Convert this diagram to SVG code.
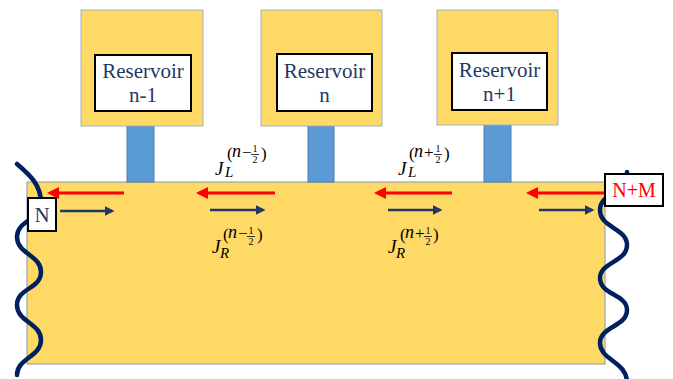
<svg xmlns="http://www.w3.org/2000/svg" width="673" height="379" viewBox="0 0 673 379">
<defs>
<style>
.res{fill:#FFD966;stroke:#9DB0CC;stroke-width:1}
.pipe{fill:#5B9BD5;stroke:#4A7EB0;stroke-width:1}
.inner{fill:#ffffff;stroke:#000000;stroke-width:2}
.rt{font-family:'Liberation Serif','DejaVu Serif','Times New Roman',serif;font-size:21px;fill:#1F3864;text-anchor:middle}
.wave{fill:none;stroke:#002060;stroke-width:4.5;stroke-linecap:round}
.red{stroke:#FF0000;stroke-width:3;fill:none;marker-end:url(#hr)}
.navy{stroke:#1F3864;stroke-width:2.5;fill:none;marker-end:url(#hn)}
.mi{font-family:'Liberation Serif','DejaVu Serif','Times New Roman',serif;font-style:italic;fill:#000}
.mo{font-family:'Liberation Serif','DejaVu Serif','Times New Roman',serif;fill:#000}
.nt{font-family:'Liberation Serif','DejaVu Serif','Times New Roman',serif;text-anchor:middle}
.bar{stroke:#000;stroke-width:0.8}
</style>
<marker id="hr" markerWidth="4" markerHeight="4" refX="3" refY="2" orient="auto" markerUnits="strokeWidth"><path d="M0,0 L4,2 L0,4 Z" fill="#FF0000"/></marker>
<marker id="hn" markerWidth="4" markerHeight="4" refX="3" refY="2" orient="auto" markerUnits="strokeWidth"><path d="M0,0 L4,2 L0,4 Z" fill="#1F3864"/></marker>
</defs>
<rect width="673" height="379" fill="#ffffff"/>
<g id="channel"><rect x="27" y="182" width="578" height="182" fill="#FFD966" stroke="#8497B0" stroke-width="1"/></g>
<g id="reservoir-n-1">
<rect class="pipe" x="127" y="126" width="27" height="56"/>
<rect class="res" x="81" y="10" width="122" height="116"/>
<rect class="inner" x="95" y="55" width="96" height="56"/>
<text class="rt" x="143" y="78">Reservoir</text>
<text class="rt" x="143" y="102">n-1</text>
</g>
<g id="reservoir-n">
<rect class="pipe" x="308" y="126" width="26" height="56"/>
<rect class="res" x="261" y="10" width="121" height="116"/>
<rect class="inner" x="277" y="54" width="95" height="57"/>
<text class="rt" x="324.5" y="78">Reservoir</text>
<text class="rt" x="324.5" y="102">n</text>
</g>
<g id="reservoir-n1">
<rect class="pipe" x="484" y="125" width="27" height="57"/>
<rect class="res" x="437" y="10" width="121" height="115"/>
<rect class="inner" x="452" y="53" width="95" height="57"/>
<text class="rt" x="499.5" y="77">Reservoir</text>
<text class="rt" x="499.5" y="101">n+1</text>
</g>
<g id="connectors">
<line class="red" x1="124" y1="193" x2="50" y2="193"/>
<line class="red" x1="275" y1="193" x2="199" y2="193"/>
<line class="red" x1="452" y1="193" x2="377" y2="193"/>
<line class="red" x1="604" y1="193" x2="529" y2="193"/>
<line class="navy" x1="60" y1="211" x2="112" y2="211"/>
<line class="navy" x1="210" y1="210" x2="263" y2="210"/>
<line class="navy" x1="388" y1="210" x2="440" y2="210"/>
<line class="navy" x1="539" y1="210" x2="592" y2="210"/>
</g>
<g id="waves">
<path class="wave" d="M17,164 C30,175 41,185 41,203 C41,220 17,220 17,237 C17,254 41,255 41,272 C41,289 17,288 17,305 C17,322 41,323 41,340 C41,357 17,358 17,375"/>
<path class="wave" d="M627,172 C627,192 600,193 600,210 C600,228 627,228 627,245 C627,262 600,262 600,278 C600,295 627,294 627,310 C627,327 600,326 600,343 C600,360 627,362 627,382"/>
</g>
<g id="node-N">
<rect x="28" y="198" width="28" height="33" fill="#fff" stroke="#000" stroke-width="2"/>
<text class="nt" x="42" y="222" font-size="21" fill="#1F3864">N</text>
</g>
<g id="node-NM">
<rect x="605" y="174" width="58" height="32" fill="#fff" stroke="#000" stroke-width="2"/>
<text class="nt" x="634" y="197" font-size="20" fill="#FF0000">N+M</text>
</g>
<g id="label-JL-minus" transform="translate(215,175)">
<text class="mi" x="0" y="0" font-size="19">J</text>
<text class="mi" x="10" y="2" font-size="15">L</text>
<text class="mo" x="12" y="-16" font-size="17">(</text>
<text class="mi" x="17" y="-18" font-size="18">n</text>
<text class="mo" x="27" y="-17" font-size="17">−</text>
<text class="mo" x="40" y="-23" font-size="10" text-anchor="middle">1</text>
<line class="bar" x1="36" y1="-20.5" x2="44" y2="-20.5"/>
<text class="mo" x="40" y="-12" font-size="10" text-anchor="middle">2</text>
<text class="mo" x="46" y="-16" font-size="17">)</text>
</g>
<g id="label-JR-minus" transform="translate(212,253)">
<text class="mi" x="0" y="0" font-size="19">J</text>
<text class="mi" x="8" y="5" font-size="15">R</text>
<text class="mo" x="11" y="-13" font-size="17">(</text>
<text class="mi" x="16" y="-15" font-size="18">n</text>
<text class="mo" x="26" y="-14" font-size="17">−</text>
<text class="mo" x="39" y="-19" font-size="10" text-anchor="middle">1</text>
<line class="bar" x1="35" y1="-16.5" x2="43" y2="-16.5"/>
<text class="mo" x="39" y="-8" font-size="10" text-anchor="middle">2</text>
<text class="mo" x="45" y="-13" font-size="17">)</text>
</g>
<g id="label-JL-plus" transform="translate(398,175)">
<text class="mi" x="0" y="0" font-size="19">J</text>
<text class="mi" x="10" y="2" font-size="15">L</text>
<text class="mo" x="11" y="-16" font-size="17">(</text>
<text class="mi" x="16" y="-18" font-size="18">n</text>
<text class="mo" x="26" y="-17" font-size="17">+</text>
<text class="mo" x="40" y="-23" font-size="10" text-anchor="middle">1</text>
<line class="bar" x1="36" y1="-20.5" x2="44" y2="-20.5"/>
<text class="mo" x="40" y="-12" font-size="10" text-anchor="middle">2</text>
<text class="mo" x="46" y="-16" font-size="17">)</text>
</g>
<g id="label-JR-plus" transform="translate(388,253)">
<text class="mi" x="0" y="0" font-size="19">J</text>
<text class="mi" x="8" y="5" font-size="15">R</text>
<text class="mo" x="12" y="-13" font-size="17">(</text>
<text class="mi" x="17" y="-15" font-size="18">n</text>
<text class="mo" x="27" y="-14" font-size="17">+</text>
<text class="mo" x="40" y="-19" font-size="10" text-anchor="middle">1</text>
<line class="bar" x1="36" y1="-16.5" x2="44" y2="-16.5"/>
<text class="mo" x="40" y="-8" font-size="10" text-anchor="middle">2</text>
<text class="mo" x="45" y="-13" font-size="17">)</text>
</g>
</svg>
